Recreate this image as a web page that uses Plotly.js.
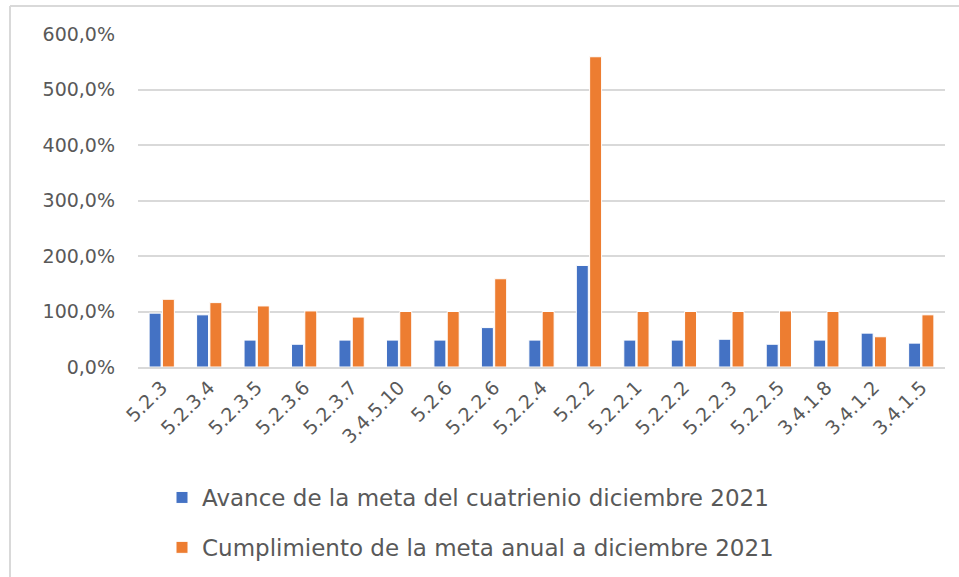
<!DOCTYPE html>
<html>
<head>
<meta charset="utf-8">
<script src="https://cdn.plot.ly/plotly-3.0.1.min.js"></script>
<style>html,body{margin:0;padding:0;background:#fff;}#chart{width:959px;height:577px;}</style>
</head>
<body>
<div id="chart"></div>
<script>
var categories = ["5.2.3","5.2.3.4","5.2.3.5","5.2.3.6","5.2.3.7","3.4.5.10","5.2.6","5.2.2.6","5.2.2.4","5.2.2","5.2.2.1","5.2.2.2","5.2.2.3","5.2.2.5","3.4.1.8","3.4.1.2","3.4.1.5"];
var avanceCuatrienio = [97, 94, 48.5, 41, 48.5, 48.5, 48.5, 71, 48.5, 183, 48.5, 48.5, 50, 41, 48.5, 61, 43];
var cumplimientoAnual = [122, 116, 110, 101, 90, 100, 100, 159, 100, 559, 100, 100, 100, 101, 100, 54.5, 94];
var seriesNames = ["Avance de la meta del cuatrienio diciembre 2021", "Cumplimiento de la meta anual a diciembre 2021"];
var yTicks = [0, 100, 200, 300, 400, 500, 600];
var yTickText = ["0,0%", "100,0%", "200,0%", "300,0%", "400,0%", "500,0%", "600,0%"];

var W = 959, H = 577;
var m = {l: 138, r: 14, t: 34, b: 210, autoexpand: false};
var pw = W - m.l - m.r, ph = H - m.t - m.b;
function px(x){ return (x - m.l) / pw; }
function py(y){ return (H - m.b - y) / ph; }

var traces = [
  {type: "bar", x: categories, y: avanceCuatrienio, name: seriesNames[0], legendgroup: "a",
   marker: {color: "#4472C4", line: {color: "#ffffff", width: 1}}, hoverinfo: "x+y"},
  {type: "bar", x: categories, y: cumplimientoAnual, name: seriesNames[1], legendgroup: "b",
   marker: {color: "#ED7D31", line: {color: "#ffffff", width: 1}}, hoverinfo: "x+y"}
];

var layout = {
  width: W, height: H,
  margin: m,
  paper_bgcolor: "#ffffff", plot_bgcolor: "#ffffff",
  separators: ",.",
  font: {family: "DejaVu Sans, Open Sans, sans-serif", color: "#595959"},
  barmode: "group", bargap: 0.44, bargroupgap: 0.1,
  xaxis: {
    type: "category", tickangle: -45, showgrid: false, zeroline: false, automargin: false,
    showline: true, linecolor: "#d9d9d9", linewidth: 2,
    ticks: "", tickfont: {size: 19, color: "#595959"}
  },
  yaxis: {
    range: [0, 600], tickmode: "array", tickvals: yTicks, ticktext: yTickText, automargin: false,
    showgrid: true, gridcolor: "#d9d9d9", gridwidth: 2, zeroline: false,
    showline: false, ticks: "", ticklabelstandoff: 22,
    tickfont: {size: 19, color: "#595959"}
  },
  showlegend: true,
  legend: {
    orientation: "v", x: px(162), xanchor: "left", y: py(476), yanchor: "top",
    font: {size: 23, color: "#595959"}, traceorder: "grouped", tracegroupgap: 17,
    bgcolor: "rgba(0,0,0,0)"
  },
  shapes: [
    {type: "line", xref: "paper", yref: "paper", x0: px(10), x1: px(959), y0: py(6), y1: py(6), line: {color: "#d9d9d9", width: 2}},
    {type: "line", xref: "paper", yref: "paper", x0: px(10), x1: px(10), y0: py(6), y1: py(577), line: {color: "#d9d9d9", width: 2}}
  ]
};

Plotly.newPlot("chart", traces, layout, {displayModeBar: false, staticPlot: true});
</script>
</body>
</html>
